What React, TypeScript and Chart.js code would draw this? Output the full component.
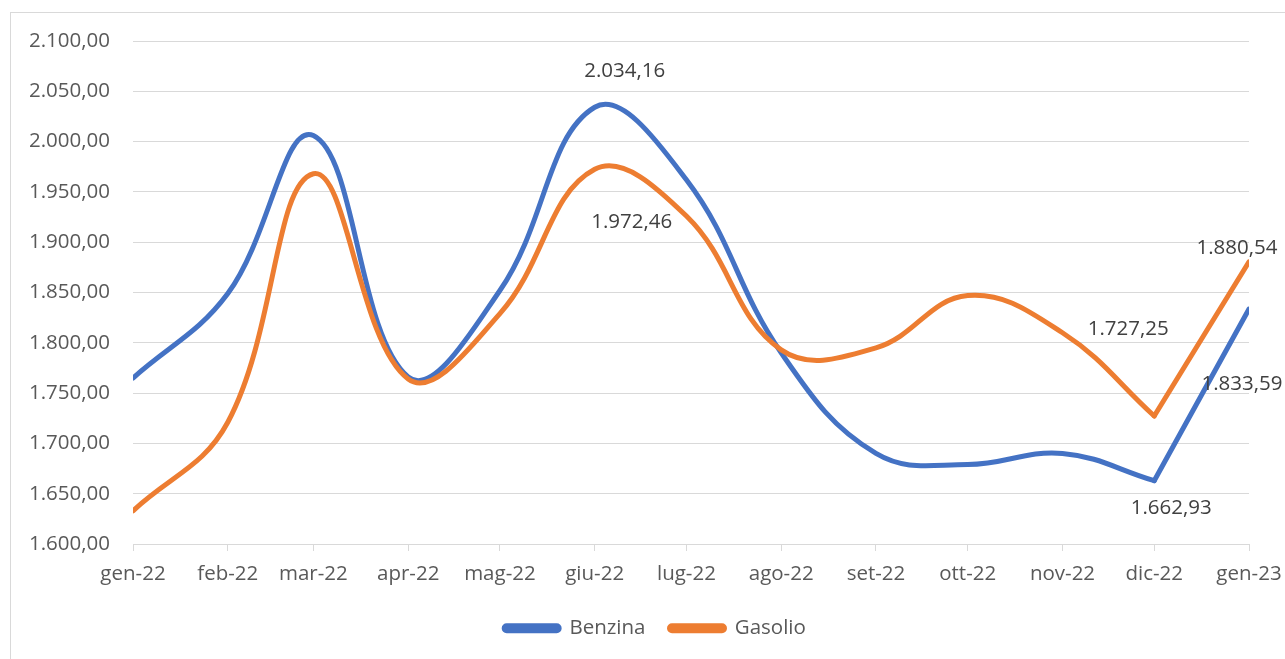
import React, { useEffect, useRef } from "react";
import { Chart, registerables } from "chart.js";

Chart.register(...registerables);

// ---- data ----
const monthLabels = [
  "gen-22", "feb-22", "mar-22", "apr-22", "mag-22", "giu-22", "lug-22",
  "ago-22", "set-22", "ott-22", "nov-22", "dic-22", "gen-23",
];
const monthDates = [
  "2022-01-01", "2022-02-01", "2022-03-01", "2022-04-01", "2022-05-01", "2022-06-01", "2022-07-01",
  "2022-08-01", "2022-09-01", "2022-10-01", "2022-11-01", "2022-12-01", "2023-01-01",
];
const benzina = [1765, 1849, 2006, 1766, 1852, 2034.16, 1962, 1790, 1690, 1679, 1690, 1662.93, 1833.59];
const gasolio = [1633, 1721, 1968, 1764, 1829, 1972.46, 1926, 1793, 1795, 1847, 1810, 1727.25, 1880.54];
const yTicks = { min: 1600, max: 2100, step: 50 };

// labelled points: [series, month index]
const labelledPoints: Array<["benzina" | "gasolio", number]> = [
  ["benzina", 5],
  ["gasolio", 5],
  ["gasolio", 11],
  ["benzina", 11],
  ["gasolio", 12],
  ["benzina", 12],
];

// ---- helpers ----
const dayOffsets = monthDates.map((d) => {
  const t = Date.parse(d + "T00:00:00Z");
  const t0 = Date.parse(monthDates[0] + "T00:00:00Z");
  return Math.round((t - t0) / 86400000);
});

function fmtIt(v: number): string {
  const neg = v < 0;
  const s = Math.abs(v).toFixed(2);
  const [int, dec] = s.split(".");
  const grouped = int.replace(/\B(?=(\d{3})+(?!\d))/g, ".");
  return (neg ? "-" : "") + grouped + "," + dec;
}

const BLUE = "#4472C4";
const ORANGE = "#ED7D31";
const FONT = "'Open Sans', 'DejaVu Sans', sans-serif";
const FS = 20.5;

// label offsets relative to the point (style only)
const labelOffsets: Record<string, [number, number]> = {
  "benzina-5": [30, -36],
  "gasolio-5": [37, 53],
  "gasolio-11": [-26, -87],
  "benzina-11": [17, 27],
  "gasolio-12": [-12, -14],
  "benzina-12": [-7, 75],
};

const dataLabelPlugin = {
  id: "dataLabelPlugin",
  afterDatasetsDraw(chart: any) {
    const { ctx, scales } = chart;
    ctx.save();
    ctx.font = `${FS}px ${FONT}`;
    ctx.fillStyle = "#404040";
    ctx.textAlign = "center";
    ctx.textBaseline = "middle";
    labelledPoints.forEach(([series, idx]) => {
      const arr = series === "benzina" ? benzina : gasolio;
      const v = arr[idx];
      const x = scales.x.getPixelForValue(dayOffsets[idx]);
      const y = scales.y.getPixelForValue(v);
      const off = labelOffsets[`${series}-${idx}`] || [0, -20];
      ctx.fillText(fmtIt(v), x + off[0], y + off[1]);
    });
    ctx.restore();
  },
};

function pts(arr: number[], from: number, to: number) {
  const out: { x: number; y: number }[] = [];
  for (let i = from; i <= to; i++) out.push({ x: dayOffsets[i], y: arr[i] });
  return out;
}

export default function App() {
  const ref = useRef<HTMLCanvasElement | null>(null);

  useEffect(() => {
    if (!ref.current) return;
    const last = monthLabels.length - 1;
    const common = {
      borderWidth: 5,
      pointRadius: 0,
      pointHoverRadius: 0,
      fill: false,
      borderCapStyle: "round" as const,
      borderJoinStyle: "round" as const,
    };
    const chart = new Chart(ref.current, {
      type: "line",
      data: {
        datasets: [
          { ...common, label: "Benzina", data: pts(benzina, 0, last - 1), borderColor: BLUE, backgroundColor: BLUE, tension: 0.4, order: 1 },
          { ...common, label: "Gasolio", data: pts(gasolio, 0, last - 1), borderColor: ORANGE, backgroundColor: ORANGE, tension: 0.4, order: 0 },
          { ...common, label: "Benzina-tail", data: pts(benzina, last - 1, last), borderColor: BLUE, backgroundColor: BLUE, tension: 0, order: 1 },
          { ...common, label: "Gasolio-tail", data: pts(gasolio, last - 1, last), borderColor: ORANGE, backgroundColor: ORANGE, tension: 0, order: 0 },
        ],
      },
      options: {
        responsive: false,
        animation: false,
        parsing: true,
        layout: { padding: { left: 0, top: 41, right: 0, bottom: 15 } },
        scales: {
          x: {
            type: "linear",
            min: dayOffsets[0],
            max: dayOffsets[last],
            afterBuildTicks: (scale: any) => {
              scale.ticks = dayOffsets.map((v) => ({ value: v }));
            },
            afterFit: (scale: any) => {
              scale.height = 50;
            },
            ticks: {
              autoSkip: false,
              maxRotation: 0,
              padding: 11,
              color: "#595959",
              font: { family: FONT, size: FS },
              callback: (value: any) => {
                const i = dayOffsets.indexOf(Number(value));
                return i >= 0 ? monthLabels[i] : "";
              },
            },
            grid: {
              display: true,
              drawOnChartArea: false,
              drawTicks: true,
              tickLength: 7,
              color: "#d9d9d9",
              lineWidth: 1,
            },
            border: { display: true, color: "#d9d9d9", width: 1 },
          },
          y: {
            type: "linear",
            position: "left",
            min: yTicks.min,
            max: yTicks.max,
            afterFit: (scale: any) => {
              scale.width = 133;
            },
            ticks: {
              stepSize: yTicks.step,
              padding: 23,
              color: "#595959",
              font: { family: FONT, size: FS },
              callback: (value: any) => fmtIt(Number(value)),
            },
            grid: { color: "#d9d9d9", lineWidth: 1, drawTicks: false },
            border: { display: false },
          },
          yRightSpace: {
            type: "linear",
            position: "right",
            display: true,
            min: yTicks.min,
            max: yTicks.max,
            afterFit: (scale: any) => {
              scale.width = 61;
            },
            ticks: { display: false },
            grid: { display: false, drawOnChartArea: false, drawTicks: false },
            border: { display: false },
          },
        },
        plugins: {
          legend: {
            display: true,
            position: "bottom",
            maxHeight: 50,
            labels: {
              boxWidth: 55,
              boxHeight: 5,
              padding: 24,
              useBorderRadius: true,
              borderRadius: 2.5,
              color: "#595959",
              font: { family: FONT, size: FS },
              filter: (item: any) => item.datasetIndex < 2,
              sort: (a: any, b: any) => a.datasetIndex - b.datasetIndex,
            },
          },
          tooltip: { enabled: false },
        },
      },
      plugins: [dataLabelPlugin],
    });
    return () => chart.destroy();
  }, []);

  return (
    <div style={{ position: "fixed", left: 0, top: 0, width: 1285, height: 659, overflow: "hidden", background: "#fff" }}>
      <div
        style={{
          position: "absolute",
          left: 10,
          top: 12,
          width: 1320,
          height: 700,
          border: "1px solid #d9d9d9",
          boxSizing: "border-box",
        }}
      />
      <canvas
        ref={ref}
        width={1310}
        height={659}
        style={{ position: "absolute", left: 0, top: 0, width: 1310, height: 659 }}
      />
    </div>
  );
}
